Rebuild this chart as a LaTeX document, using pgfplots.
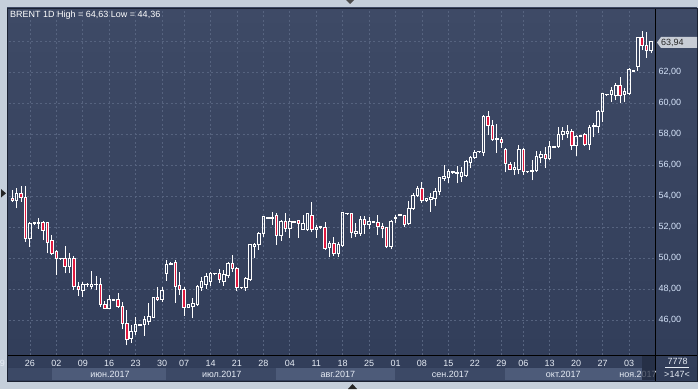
\documentclass[border=0pt]{standalone}
\usepackage{pgfplots}
\pgfplotsset{compat=1.18}
\usepackage{pgfplotstable}
\usepackage{fontspec}
\setmainfont{Liberation Sans}
\definecolor{framec}{HTML}{C5CFDB}
\definecolor{pantop}{HTML}{3E4A66}
\definecolor{panbot}{HTML}{313D59}
\definecolor{gridc}{HTML}{56637F}
\definecolor{candred}{HTML}{E0193F}
\definecolor{dayc}{HTML}{E6ECF5}
\definecolor{pricec}{HTML}{D6E4FA}
\definecolor{barlight}{HTML}{4D5B79}
\definecolor{barmid}{HTML}{3C4966}
\definecolor{nowc}{HTML}{222B40}
\definecolor{markc}{HTML}{C8CDD6}

\pgfdeclareplotmark{nothing}{}

\pgfplotstableread{
i O H L C
0 52.40 53.90 52.35 53.80
2 53.74 54.50 53.20 54.17
5 51.27 52.30 50.70 52.24
6 52.22 52.29 52.19 52.26
7 52.20 52.60 51.90 52.28
12 49.96 50.01 49.93 49.98
14 49.44 50.30 49.00 49.98
17 47.89 48.47 47.47 48.26
18 48.28 48.40 48.15 48.32
19 48.19 49.18 47.98 48.32
20 48.26 48.84 47.94 48.30
23 46.75 47.61 46.69 47.29
24 47.28 47.33 47.25 47.30
28 44.82 45.68 44.50 45.25
29 45.25 46.21 45.03 45.72
30 45.66 45.73 45.63 45.70
31 45.68 46.26 44.97 46.00
32 45.89 47.08 45.68 46.21
33 46.17 47.50 46.10 47.46
35 47.29 48.11 47.18 47.89
36 48.97 49.87 48.54 49.59
37 49.60 49.75 49.57 49.66
41 46.82 47.05 46.78 47.01
42 46.90 47.40 46.11 47.08
43 46.97 48.25 46.90 48.19
44 48.10 48.75 47.90 48.50
45 48.30 49.00 48.00 48.80
46 48.50 49.10 48.20 49.00
47 48.98 49.05 48.95 49.02
49 48.50 49.20 48.20 48.95
50 48.90 49.76 48.70 49.66
53 48.08 48.15 48.05 48.12
54 48.10 48.80 47.90 48.69
55 48.60 50.91 48.50 50.84
56 50.77 50.99 49.98 50.90
57 50.90 51.70 50.52 51.59
58 51.59 52.71 51.38 52.67
59 52.58 52.65 52.55 52.62
60 52.58 52.95 52.13 52.62
62 51.48 52.45 51.10 52.34
64 51.92 52.56 51.27 52.34
65 52.32 52.39 52.29 52.36
67 51.85 52.77 51.81 52.24
68 51.81 52.88 51.75 52.84
70 51.81 52.13 51.31 51.98
71 51.96 52.03 51.93 52.00
73 50.69 51.12 50.05 50.95
75 50.30 51.05 50.08 50.84
76 50.80 52.98 50.75 52.92
77 52.86 52.93 52.83 52.90
79 51.55 52.24 51.38 51.70
80 51.59 52.71 51.42 52.50
82 52.13 52.67 51.85 52.34
83 52.32 52.39 52.29 52.36
87 50.73 52.45 50.56 52.34
88 52.58 52.77 52.24 52.62
89 52.75 52.82 52.72 52.79
91 52.24 53.70 52.13 53.20
92 53.20 54.17 53.10 54.06
93 54.06 54.65 53.96 54.50
95 53.70 53.90 53.65 53.85
96 53.80 54.17 52.99 53.88
97 53.85 54.50 53.35 54.32
98 54.28 55.25 54.06 55.18
99 55.10 56.00 54.97 55.29
100 55.20 55.72 54.86 55.57
101 55.51 55.58 55.48 55.55
102 55.45 55.94 54.82 55.50
103 55.28 55.85 54.92 55.50
104 55.35 56.32 55.25 56.21
105 56.15 56.58 55.79 56.50
106 56.50 56.97 56.37 56.79
107 56.84 56.91 56.81 56.88
108 56.79 59.23 56.58 59.16
115 55.68 56.21 55.35 55.83
116 55.68 57.29 55.40 56.97
118 55.55 55.62 55.52 55.59
119 55.60 56.30 55.00 55.66
120 55.63 56.90 55.57 56.58
121 56.47 56.90 56.11 56.65
123 56.43 57.55 56.32 57.18
124 57.16 57.23 57.13 57.20
125 57.18 58.47 57.12 57.94
126 57.94 58.47 57.61 58.15
127 58.05 58.55 57.72 58.19
129 57.25 57.94 56.60 57.87
130 57.87 57.94 57.84 57.91
132 57.34 58.58 56.97 58.43
133 58.47 58.69 57.83 58.58
134 58.47 59.55 58.05 59.48
135 59.44 60.67 58.80 60.63
136 60.54 60.61 60.51 60.58
137 60.52 61.05 60.08 60.80
138 60.47 61.27 60.19 61.10
140 60.52 60.95 60.08 60.77
141 60.63 62.24 60.52 62.13
142 62.06 62.13 62.03 62.10
143 62.34 64.28 62.06 64.24
146 63.42 64.02 63.20 63.94
}\upcandles

\pgfplotstableread{
i O H L C
1 53.85 54.39 53.63 53.70
3 54.17 54.65 53.63 53.92
4 53.92 54.65 51.05 51.27
8 52.28 52.40 51.16 51.80
9 52.28 52.34 50.30 50.99
10 51.10 51.48 50.19 50.30
11 50.41 50.52 48.90 49.98
13 49.98 50.77 49.00 49.44
15 49.98 50.13 47.94 48.15
16 48.19 48.47 47.55 47.94
21 48.26 48.73 46.82 46.97
22 46.97 47.23 46.69 46.75
25 47.29 47.76 46.82 46.86
26 46.86 47.18 45.40 45.79
27 45.79 46.65 44.36 44.71
34 47.46 48.11 47.25 47.34
38 49.70 49.87 47.10 48.19
39 48.24 49.12 47.61 47.94
40 47.98 48.11 46.26 46.82
48 49.00 49.29 48.40 48.60
51 49.66 50.19 49.10 49.31
52 49.33 49.40 47.90 48.10
61 52.71 52.92 50.84 51.48
63 52.34 52.88 51.70 51.92
66 52.39 52.45 51.31 52.24
69 52.77 53.59 51.66 51.81
72 51.98 52.34 50.52 50.58
74 50.95 51.37 50.13 50.30
78 52.88 52.92 51.27 51.63
81 52.50 52.71 51.55 52.19
84 52.28 52.77 51.48 52.02
85 52.06 52.24 51.27 51.92
86 51.96 52.02 50.62 50.73
90 52.71 52.77 51.98 52.13
94 54.50 54.92 53.57 53.74
109 59.12 59.48 57.94 58.58
110 58.58 58.90 57.57 57.66
111 57.68 58.65 56.78 57.64
112 57.66 57.83 57.10 57.44
113 57.01 57.08 55.53 56.11
114 56.05 56.21 55.68 55.74
117 56.97 57.08 55.35 55.57
122 56.65 57.18 55.83 56.43
128 58.19 58.30 56.97 57.25
131 57.94 58.05 57.25 57.34
139 61.10 61.70 59.98 60.47
144 64.24 64.63 63.42 63.70
145 63.74 64.56 62.92 63.42
}\downcandles

\pgfplotsset{
  candle/.style={
    only marks, scatter, mark=nothing,
    visualization depends on={\thisrow{H}-\thisrow{O} \as \cHi},
    visualization depends on={\thisrow{L}-\thisrow{O} \as \cLo},
    visualization depends on={max(\thisrow{C}-\thisrow{O},0) \as \cTop},
    visualization depends on={min(\thisrow{C}-\thisrow{O},0) \as \cBot},
    scatter/@pre marker code/.append code={%
      \draw[white, line width=1pt] (axis direction cs:0,\cLo) -- (axis direction cs:0,\cBot)
        (axis direction cs:0,\cTop) -- (axis direction cs:0,\cHi);
      \draw[white, line width=1pt, fill=#1] ([xshift=-1.25pt]axis direction cs:0,\cBot) rectangle ([xshift=1.25pt]axis direction cs:0,\cTop);
    },
  }
}

\begin{document}
\begin{tikzpicture}[x=1pt,y=1pt]
% outer frame and panel
\fill[framec] (0,0) rectangle (698,389);
\shade[top color=pantop, bottom color=panbot] (7,8) rectangle (697,381);
% month bars (bottom row)
\fill[barmid] (7,9) rectangle (51.7,21);
\fill[barlight] (51.7,9) rectangle (165.7,21);
\fill[barmid] (165.7,9) rectangle (276,21);
\fill[barlight] (276,9) rectangle (395,21);
\fill[barmid] (395,9) rectangle (505,21);
\fill[barlight] (505,9) rectangle (642,21);
\begin{axis}[
  at={(8.5pt,34pt)}, anchor=south west,
  scale only axis, width=646.5pt, height=347pt,
  xmin=0.136, xmax=146.9, ymin=43.74, ymax=66.13,
  axis line style={draw=none},
  major tick length=0pt,
  xtick={5,11,17,23,29,35,40,46,52,58,64,70,76,82,88,94,100,106,112,117,123,129,135,141},
  xticklabels={26,02,09,16,23,30,07,14,21,28,04,11,18,25,01,08,15,22,29,06,13,20,27,03},
  ytick={46,48,...,64},
  yticklabels={{46,00},{48,00},{50,00},{52,00},{54,00},{56,00},{58,00},{60,00},{62,00},{}},
  yticklabel pos=right,
  grid=major,
  major grid style={draw=gridc, line width=0.8pt, dash pattern=on 2pt off 2.5pt},
  xticklabel style={font=\fontsize{9}{10}\selectfont, text=dayc, anchor=base, yshift=-11.3pt},
  yticklabel style={font=\fontsize{9}{10}\selectfont, text=pricec},
  /pgf/number format/assume math mode=true,
  clip mode=individual,
]
\addplot[candle=none] table[x=i,y=O]{\upcandles};
\addplot[candle=candred] table[x=i,y=O]{\downcandles};
\end{axis}
% separators
\draw[black, line width=1pt] (655,8) -- (655,381);
\draw[black, line width=1pt] (7,34) -- (697,34);
\draw[nowc!80!black, line width=0.8pt] (7,8) rectangle (697,381);
% title
\node[anchor=west, text=white, font=\fontsize{9}{10}\selectfont, inner sep=0pt] at (10,374) {BRENT 1D High = 64,63 Low = 44,36};
% first partial day label
\node[text=dayc, font=\fontsize{9}{10}\selectfont, inner sep=0pt, anchor=base] at (2.5,22.7) {9};
% month labels
\begin{scope}[every node/.style={text=dayc, font=\fontsize{9}{10}\selectfont, inner sep=0pt}]
\node at (110,15) {июн.2017};
\node at (221.7,15) {июл.2017};
\node at (337.8,15) {авг.2017};
\node at (450.3,15) {сен.2017};
\node at (563.3,15) {окт.2017};
\node at (638,15) {ноя.2017};
\end{scope}
\fill[nowc, opacity=0.7] (642,9) rectangle (654.5,33.5);
% bottom right info
\node[text=dayc, font=\fontsize{9}{10}\selectfont, inner sep=0pt] at (677.5,28) {7778};
\draw[dayc, line width=0.6pt] (665,21.7) -- (689,21.7);
\node[text=dayc, font=\fontsize{9}{10}\selectfont, inner sep=0pt] at (677,15) {>147<};
% last price marker
\fill[markc] (657,346.5) -- (661,352) -- (697,352) -- (697,341) -- (661,341) -- cycle;
\node[anchor=west, text=black!85, font=\fontsize{9}{10}\selectfont, inner sep=0pt] at (661,346.5) {63,94};
% navigation triangles
\fill[black!85] (1,200) -- (1,191.5) -- (6,195.7) -- cycle;
\fill[black!70] (346,389) -- (354,389) -- (350,385) -- cycle;
\fill[black!85] (348,0) -- (357,0) -- (352.5,5) -- cycle;
\end{tikzpicture}
\end{document}
